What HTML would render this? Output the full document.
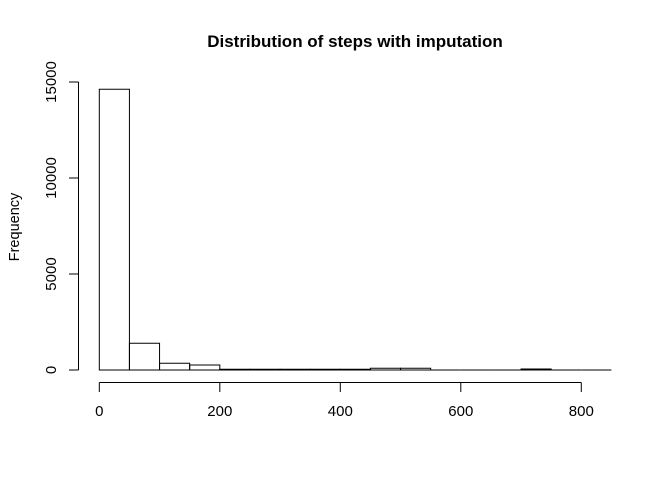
<!DOCTYPE html>
<html><head><meta charset="utf-8"><style>
body{margin:0;background:#fff}
svg{display:block;font-family:"Liberation Sans",Arial,sans-serif}
</style></head><body>
<svg id="c" width="672" height="480" viewBox="0 0 672 480">
<text x="355" y="47" text-anchor="middle" font-weight="bold" font-size="17">Distribution of steps with imputation</text>
<text transform="translate(19,227) rotate(-90)" text-anchor="middle" font-size="14.5">Frequency</text>
<g id="bars"></g>
<g id="xaxis"></g>
<g id="yaxis"></g>
</svg>
<script>
const binStarts=[0,50,100,150,200,250,300,350,400,450,500,550,600,650,700,750,800];
const binWidth=50;
const counts=[14620,1390,350,260,40,40,40,40,40,90,90,0,0,0,50,0,0];
const xTicks=[0,200,400,600,800];
const yTicks=[0,5000,10000,15000];
const NS="http://www.w3.org/2000/svg";
const X=v=>99.3+v*0.6025;
const Y=v=>370-v*0.0192;
function mk(t,a,p){const e=document.createElementNS(NS,t);for(const k in a)e.setAttribute(k,a[k]);p.appendChild(e);return e;}
const bars=document.getElementById('bars');
binStarts.forEach((b,i)=>{
 const x0=X(b),x1=X(b+binWidth),y0=Y(0),y1=Y(counts[i]);
 const r=mk('path',{d:`M${x0},${y0}L${x0},${y1}L${x1},${y1}L${x1},${y0}Z`,fill:'none',stroke:'#000','stroke-width':1},bars);
 
 
});
const xa=document.getElementById('xaxis');
mk('line',{x1:X(xTicks[0]),x2:X(xTicks[xTicks.length-1]),y1:382.5,y2:382.5,stroke:'#000'},xa);
xTicks.forEach(t=>{
 mk('line',{x1:X(t),x2:X(t),y1:382.5,y2:392,stroke:'#000'},xa);
 const tx=mk('text',{x:X(t),y:416,'text-anchor':'middle','font-size':15},xa);
 tx.textContent=t;
 
 
});
const ya=document.getElementById('yaxis');
mk('line',{x1:78.5,x2:78.5,y1:Y(yTicks[0]),y2:Y(yTicks[yTicks.length-1]),stroke:'#000'},ya);
yTicks.forEach(t=>{
 mk('line',{x1:69,x2:78.5,y1:Y(t),y2:Y(t),stroke:'#000'},ya);
 const tx=mk('text',{transform:`translate(56,${Y(t)}) rotate(-90)`,'text-anchor':'middle','font-size':15},ya);
 tx.textContent=t;
 
 
});
</script>
</body></html>
